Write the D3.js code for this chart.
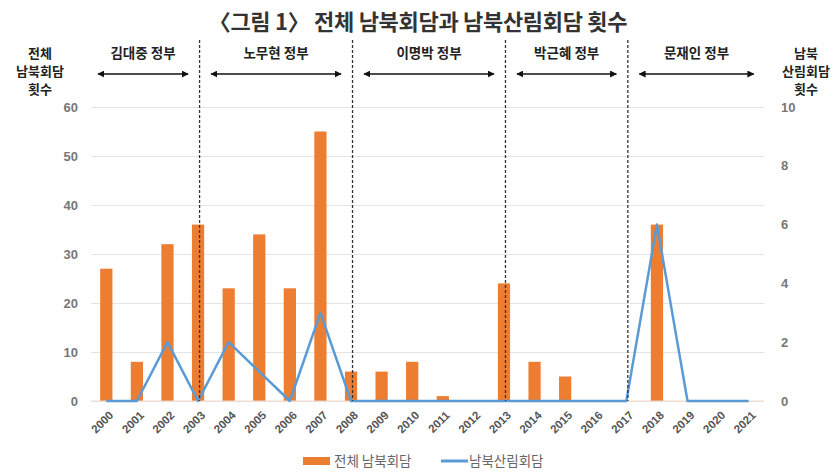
<!DOCTYPE html>
<html>
<head>
<meta charset="utf-8">
<script src="https://cdn.jsdelivr.net/npm/d3@7"></script>
<style>
  body { margin: 0; background: #fff; }
  svg { display: block; font-family: "Noto Sans CJK KR", "Noto Sans", sans-serif; }
</style>
</head>
<body>
<svg id="chart" width="837" height="474"></svg>
<script>
// data
const years = ['2000','2001','2002','2003','2004','2005','2006','2007','2008','2009','2010',
  '2011','2012','2013','2014','2015','2016','2017','2018','2019','2020','2021'];
const totalTalks = [27, 8, 32, 36, 23, 34, 23, 55, 6, 6, 8, 1, 0, 24, 8, 5, 0, 0, 36, 0, 0, 0];
const forestTalks = [0, 0, 2, 0, 2, 1, 0, 3, 0, 0, 0, 0, 0, 0, 0, 0, 0, 0, 6, 0, 0, 0];
const leftTicks = [0, 10, 20, 30, 40, 50, 60];
const rightTicks = [0, 2, 4, 6, 8, 10];
const govNames = ['김대중 정부', '노무현 정부', '이명박 정부', '박근혜 정부', '문재인 정부'];
const govStart = ['2000', '2003', '2008', '2013', '2017'];
const govEnd = ['2003', '2008', '2013', '2017', '2021'];
const dividerYears = ['2003', '2008', '2013', '2017'];

const orange = '#ED7D31';
const blue = '#5B9BD5';

const margin = { top: 107, right: 73, bottom: 73, left: 91 };
const width = 837, height = 474;
const chartWidth = width - margin.left - margin.right;
const chartHeight = height - margin.top - margin.bottom;

const svg = d3.select('#chart');
svg.append('rect').attr('width', width).attr('height', height).attr('fill', '#fff');

const g = svg.append('g').attr('transform', `translate(${margin.left},${margin.top})`);

const x = d3.scaleBand().domain(years).range([0, chartWidth]).paddingInner(0.6).paddingOuter(0.3);
const xc = d => x(d) + x.bandwidth() / 2;
const yL = d3.scaleLinear().domain([0, 60]).range([chartHeight, 0]);
const yR = d3.scaleLinear().domain([0, 10]).range([chartHeight, 0]);

// grid lines
g.append('g')
  .call(d3.axisLeft(yL).tickValues(leftTicks).tickSize(-chartWidth).tickFormat(''))
  .call(s => s.select('.domain').remove())
  .selectAll('line').attr('stroke', '#e4e4e4').attr('stroke-width', 1);

// left axis labels
g.append('g')
  .call(d3.axisLeft(yL).tickValues(leftTicks).tickSize(0).tickPadding(13))
  .call(s => s.select('.domain').remove())
  .selectAll('text')
  .style('fill', '#777').style('font-size', '13px').style('font-weight', '700')
  .style('font-family', '"Liberation Sans", Arial, sans-serif');

// right axis labels
g.append('g')
  .attr('transform', `translate(${chartWidth},0)`)
  .call(d3.axisRight(yR).tickValues(rightTicks).tickSize(0).tickPadding(17))
  .call(s => s.select('.domain').remove())
  .selectAll('text')
  .style('fill', '#777').style('font-size', '13px').style('font-weight', '700')
  .style('font-family', '"Liberation Sans", Arial, sans-serif');

// bars
g.selectAll('rect.bar')
  .data(years)
  .enter()
  .append('rect')
  .attr('class', 'bar')
  .attr('x', d => x(d))
  .attr('width', x.bandwidth())
  .attr('y', (d, i) => yL(totalTalks[i]))
  .attr('height', (d, i) => chartHeight - yL(totalTalks[i]))
  .attr('fill', orange);

// x axis baseline
g.append('line')
  .attr('x1', 0).attr('x2', chartWidth)
  .attr('y1', chartHeight).attr('y2', chartHeight)
  .attr('stroke', '#f0d8c8').attr('stroke-width', 1);

// line series
const line = d3.line()
  .x((d, i) => xc(years[i]))
  .y(d => yR(d));

g.append('path')
  .datum(forestTalks)
  .attr('d', line)
  .attr('fill', 'none')
  .attr('stroke', blue)
  .attr('stroke-width', 2.5)
  .attr('stroke-linejoin', 'round');

// government divider lines
g.selectAll('line.divider')
  .data(dividerYears)
  .enter()
  .append('line')
  .attr('class', 'divider')
  .attr('x1', d => xc(d) + 1.5).attr('x2', d => xc(d) + 1.5)
  .attr('y1', 40 - margin.top).attr('y2', chartHeight)
  .attr('stroke', '#333').attr('stroke-width', 1.3)
  .attr('stroke-dasharray', '3,2');

// x axis tick labels
g.append('g')
  .attr('transform', `translate(0,${chartHeight})`)
  .call(d3.axisBottom(x).tickSize(0).tickPadding(0))
  .call(s => s.select('.domain').remove())
  .selectAll('text')
  .attr('transform', 'translate(5,12) rotate(-45)')
  .attr('dy', '0.35em')
  .style('text-anchor', 'end')
  .style('fill', '#555').style('font-size', '11.5px').style('font-weight', '700')
  .style('font-family', '"Liberation Sans", Arial, sans-serif');

// government labels and arrows
const defs = svg.append('defs');
defs.append('marker')
  .attr('id', 'arrowhead')
  .attr('viewBox', '0 0 10 10')
  .attr('refX', 9).attr('refY', 5)
  .attr('markerWidth', 5).attr('markerHeight', 5)
  .attr('orient', 'auto-start-reverse')
  .append('path').attr('d', 'M0,0 L10,5 L0,10 z').attr('fill', '#111');

const govX0 = (d, i) => (i === 0 ? 7 : xc(govStart[i]) + 13);
const govX1 = (d, i) => (i === govNames.length - 1 ? xc(govEnd[i]) + 5 : xc(govEnd[i]) - 10);

svg.append('g')
  .attr('transform', `translate(${margin.left},0)`)
  .selectAll('g.gov')
  .data(govNames)
  .enter()
  .append('g')
  .each(function (d, i) {
    const a = govX0(d, i), b = govX1(d, i);
    const sel = d3.select(this);
    sel.append('text')
      .attr('x', (a + b) / 2).attr('y', 58)
      .attr('text-anchor', 'middle')
      .style('font-size', '13.5px').style('font-weight', '700').style('fill', '#222')
      .text(d);
    sel.append('line')
      .attr('x1', a).attr('x2', b).attr('y1', 74).attr('y2', 74)
      .attr('stroke', '#111').attr('stroke-width', 1.4)
      .attr('marker-start', 'url(#arrowhead)')
      .attr('marker-end', 'url(#arrowhead)');
  });

// axis titles
const leftTitle = ['전체', '남북회담', '횟수'];
const rightTitle = ['남북', '산림회담', '횟수'];
svg.append('g').selectAll('text').data(leftTitle).enter().append('text')
  .attr('x', 40).attr('y', (d, i) => 58 + i * 18)
  .attr('text-anchor', 'middle')
  .style('font-size', '13px').style('font-weight', '700').style('fill', '#222')
  .text(d => d);
svg.append('g').selectAll('text').data(rightTitle).enter().append('text')
  .attr('x', 806).attr('y', (d, i) => 58 + i * 18)
  .attr('text-anchor', 'middle')
  .style('font-size', '13px').style('font-weight', '700').style('fill', '#222')
  .text(d => d);

// title
svg.append('text')
  .attr('x', 418).attr('y', 30)
  .attr('text-anchor', 'middle')
  .style('font-size', '22px').style('font-weight', '700').style('fill', '#333')
  .style('letter-spacing', '-0.3px')
  .text('〈그림 1〉 전체 남북회담과 남북산림회담 횟수');

// legend
const legend = svg.append('g').attr('transform', 'translate(0,461)');
legend.append('rect').attr('x', 303).attr('y', -4).attr('width', 27).attr('height', 8).attr('fill', orange);
legend.append('text').attr('x', 334).attr('y', 5)
  .style('font-size', '13.5px').style('fill', '#666').text('전체 남북회담');
legend.append('line').attr('x1', 441).attr('x2', 468).attr('y1', 0).attr('y2', 0)
  .attr('stroke', blue).attr('stroke-width', 3);
legend.append('text').attr('x', 469).attr('y', 5)
  .style('font-size', '13.5px').style('fill', '#666').text('남북산림회담');
</script>
</body>
</html>
